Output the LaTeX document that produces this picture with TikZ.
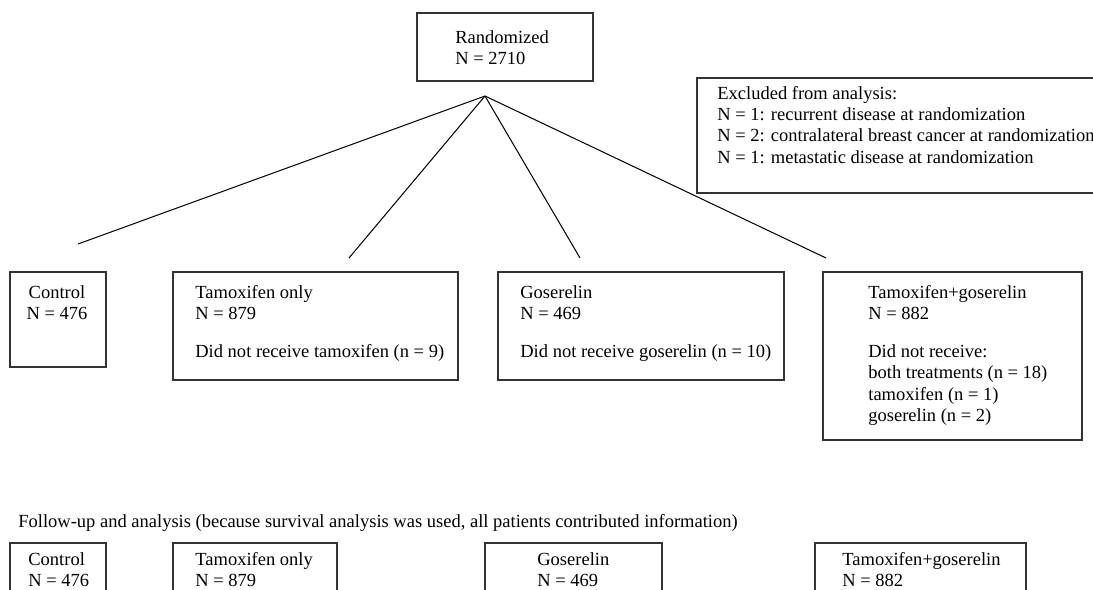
\documentclass[tikz,border=0pt]{standalone}
\usepackage{fontspec}
\setmainfont{Liberation Serif}
\usetikzlibrary{fit}
\tikzset{
    frame/.style={draw=black!80, line width=0.55pt, inner sep=0pt},
    branch/.style={draw=black, line width=0.55pt},
    txt/.style={anchor=north west, inner sep=0pt, align=left, font=\fontsize{10}{11.5}\selectfont}
}

\begin{document}
\begin{tikzpicture}[x=0.5405pt, y=-0.5405pt]
    \clip (0,0) rectangle (1093,590);
    % Randomized
    \node[frame, fit={(417,13) (593,81)}] (rand) {};
    \node[txt] (randtxt) at (455,30) {Randomized\\N = 2710};
    % Excluded
    \node[frame, fit={(697,78) (1110,193)}] (excl) {};
    \node[txt] (excltxt) at (717,86) {Excluded from analysis:\\
        N = 1: recurrent disease at randomization\\
        N = 2: contralateral breast cancer at randomization\\
        N = 1: metastatic disease at randomization};
    % Branches
    \coordinate (apex) at (485,96);
    \coordinate (toctrl) at (78,244);
    \coordinate (totam) at (349,258);
    \coordinate (togos) at (580,258);
    \coordinate (toboth) at (826,258);
    \foreach \e in {toctrl,totam,togos,toboth}
        \draw[branch] (apex) -- (\e);
    % Arms
    \node[frame, fit={(10,272) (106,367)}] (ctrl) {};
    \node[txt, align=center, anchor=north] (ctrltxt) at (57,285) {Control\\N = 476};
    \node[frame, fit={(173,272) (458,380)}] (tam) {};
    \node[txt] (tamtxt) at (195,285) {Tamoxifen only\\N = 879\\[9pt]Did not receive tamoxifen (n = 9)};
    \node[frame, fit={(498,272) (784,380)}] (gos) {};
    \node[txt] (gostxt) at (520,285) {Goserelin\\N = 469\\[9pt]Did not receive goserelin (n = 10)};
    \node[frame, fit={(823,272) (1082,440)}] (both) {};
    \node[txt] (bothtxt) at (868,285) {Tamoxifen+goserelin\\N = 882\\[9pt]Did not receive:\\
        both treatments (n = 18)\\tamoxifen (n = 1)\\goserelin (n = 2)};
    % Follow-up
    \node[txt] (follow) at (18,514) {Follow-up and analysis (because survival analysis was used, all patients contributed information)};
    \node[frame, fit={(10,543) (106,620)}] (ctrlf) {};
    \node[txt] (ctrlftxt) at (28,552) {Control\\N = 476};
    \node[frame, fit={(173,543) (337,620)}] (tamf) {};
    \node[txt] (tamftxt) at (195,552) {Tamoxifen only\\N = 879};
    \node[frame, fit={(485,543) (662,620)}] (gosf) {};
    \node[txt] (gosftxt) at (537,552) {Goserelin\\N = 469};
    \node[frame, fit={(815,543) (1026,620)}] (bothf) {};
    \node[txt] (bothftxt) at (842,552) {Tamoxifen+goserelin\\N = 882};
\end{tikzpicture}
\end{document}
